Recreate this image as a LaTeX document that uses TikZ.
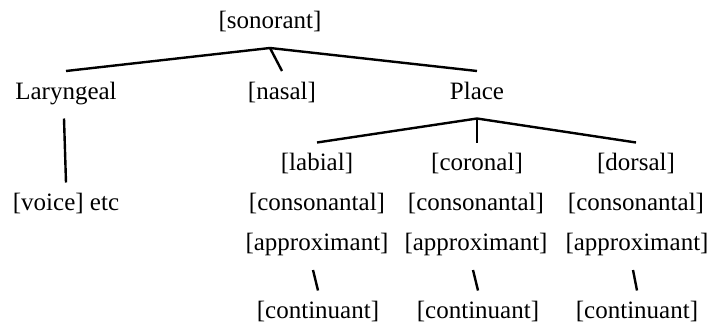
\documentclass[tikz,border=0pt]{standalone}
\usepackage{fontspec}
\setmainfont{Liberation Serif}
\usepackage{tikz}
\usetikzlibrary{positioning}

\begin{document}
\begin{tikzpicture}[x=1pt, y=-1pt,
    feat/.style={anchor=base, font=\fontsize{25}{30}\selectfont, inner xsep=0pt, inner ysep=0pt,
                 text height=17pt, text depth=8.5pt, outer ysep=11pt},
    branch/.style={line width=2.4pt}]

    \useasboundingbox (0,0) rectangle (711,329);

    % --- Raiz y primer nivel ---
    \node[feat] (son) at (270,28.5) {[sonorant]};
    \node[feat] (lar) at (66,99) {Laryngeal};
    \node[feat] (nas) at (282,99) {[nasal]};
    \node[feat] (pla) at (477,99) {Place};

    \draw[branch] (son.south) -- (lar.north);
    \draw[branch] (son.south) -- (nas.north);
    \draw[branch] (son.south) -- (pla.north);

    % --- Laryngeal ---
    \node[feat] (voi) at (66,210.5) {[voice] etc};
    \draw[branch] ([xshift=-2pt]lar.south) -- (voi.north);

    % --- Place: articuladores ---
    \node[feat] (lab) at (317,170.5) {[labial]};
    \node[feat] (cor) at (477,170.5) {[coronal]};
    \node[feat] (dor) at (636,170.5) {[dorsal]};

    \draw[branch] (pla.south) -- (lab.north);
    \draw[branch] (pla.south) -- (cor.north);
    \draw[branch] (pla.south) -- (dor.north);

    % rasgos debajo de cada articulador
    \node[feat] (conA) at (317,210.5) {[consonantal]};
    \node[feat] (conB) at (476,210.5) {[consonantal]};
    \node[feat] (conC) at (636,210.5) {[consonantal]};

    \node[feat] (appA) at (317,250.5) {[approximant]};
    \node[feat] (appB) at (476,250.5) {[approximant]};
    \node[feat] (appC) at (637,250.5) {[approximant]};

    \node[feat] (cntA) at (318,318.5) {[continuant]};
    \node[feat] (cntB) at (478,318.5) {[continuant]};
    \node[feat] (cntC) at (637,318.5) {[continuant]};

    \draw[branch] ([xshift=-4pt]appA.south) -- (cntA.north);
    \draw[branch] ([xshift=-3pt]appB.south) -- (cntB.north);
    \draw[branch] ([xshift=-4pt]appC.south) -- (cntC.north);

\end{tikzpicture}
\end{document}
